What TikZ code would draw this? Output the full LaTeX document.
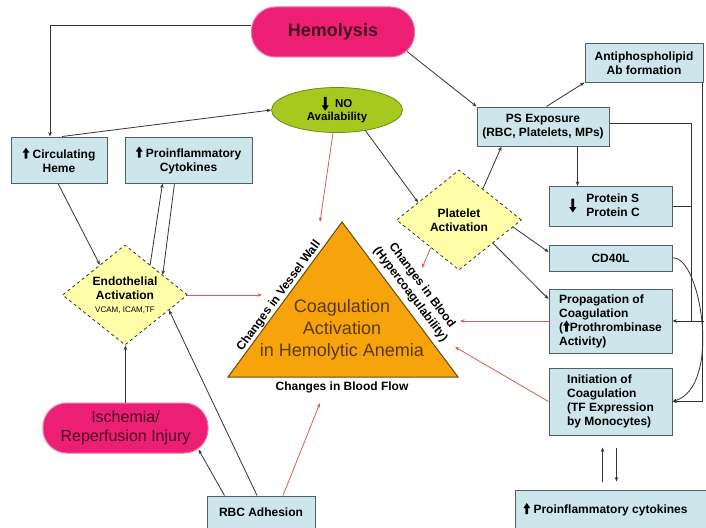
\documentclass[tikz,border=0pt]{standalone}
\usepackage{fontspec}
\setmainfont{Liberation Sans}
\usetikzlibrary{shapes.geometric,arrows.meta,calc}
\definecolor{boxfill}{HTML}{CDE6EC}
\definecolor{boxline}{HTML}{4F5F63}
\definecolor{pinkfill}{HTML}{EC1F74}
\definecolor{pinkline}{HTML}{F26FA3}
\definecolor{maroontxt}{HTML}{4A0A22}
\definecolor{greenfill}{HTML}{A5C91F}
\definecolor{greenline}{HTML}{6E8A12}
\definecolor{yellowfill}{HTML}{FFFFAA}
\definecolor{orangefill}{HTML}{F7A30C}
\definecolor{orangeline}{HTML}{6A4A08}
\definecolor{browntxt}{HTML}{5A3806}
\definecolor{redarr}{HTML}{DD5A55}
\definecolor{darkline}{HTML}{333333}
\newcommand{\UpA}{\tikz[x=1pt,y=1pt,baseline=0pt]\fill[black] (-1.4,-0.5)--(1.4,-0.5)--(1.4,5.5)--(3.4,5.5)--(0,10.5)--(-3.4,5.5)--(-1.4,5.5)--cycle;}
\newcommand{\BigDown}{\tikz[x=1pt,y=1pt,baseline=3pt]\fill[black] (-1.4,14)--(1.4,14)--(1.4,5.5)--(3.6,5.5)--(0,0)--(-3.6,5.5)--(-1.4,5.5)--cycle;}
\tikzset{
  box/.style={draw=boxline, fill=boxfill, line width=1pt, align=center, font=\bfseries\fontsize{12}{14}\selectfont, inner sep=1pt},
  pill/.style={draw=pinkline, fill=pinkfill, line width=1pt, rounded corners=24pt, text=maroontxt, align=center},
  dia/.style={diamond, draw=darkline, dashed, fill=yellowfill, line width=0.8pt, aspect=1.25, inner sep=0pt, align=center, font=\bfseries\fontsize{12}{14}\selectfont},
  ln/.style={draw=darkline, line width=0.8pt},
  arr/.style={ln, -{Stealth[length=4.5pt,width=3.5pt]}},
  rarr/.style={draw=redarr, line width=0.8pt, -{Stealth[length=4.5pt,width=3.5pt]}},
  lbl/.style={font=\bfseries\fontsize{12}{14.5}\selectfont, align=center, inner sep=0pt},
}
\begin{document}
\begin{tikzpicture}[x=1pt,y=-1pt]
\useasboundingbox[fill=white] (0,0) rectangle (706,527);

% triangle
\coordinate (tA) at (342,222);
\coordinate (tB) at (228,377);
\coordinate (tC) at (458,377);
\draw[fill=orangefill, draw=orangeline, line width=1pt] (tA)--(tB)--(tC)--cycle;
\node[font=\fontsize{18}{22}\selectfont, text=browntxt, align=center] (coag) at (342,330) {Coagulation\\Activation\\in Hemolytic Anemia};
\node[lbl, rotate=53.7] (lv) at (279,296) {Changes in Vessel Wall};
\node[lbl, rotate=-53.2] (lb) at (416,290) {Changes in Blood\\(Hypercoagulability)};
\node[lbl] (lf) at (342,387) {Changes in Blood Flow};

% nodes
\node[pill, minimum width=163pt, minimum height=50pt, font=\bfseries\fontsize{18}{20}\selectfont] (hemo) at (333,32) {Hemolysis};
\node[ellipse, draw=greenline, fill=greenfill, line width=0.8pt, minimum width=131pt, minimum height=45pt, inner sep=0pt, align=center, font=\bfseries\fontsize{11.5}{13}\selectfont] (no) at (337,110) {\BigDown\ \ NO\\Availability};
\node[box, minimum width=96pt, minimum height=46pt] (heme) at (59,160) {\UpA\ Circulating\\Heme};
\node[box, minimum width=127pt, minimum height=46pt] (cyto) at (188.5,160) {\UpA\ Proinflammatory\\Cytokines};
\node[box, minimum width=132pt, minimum height=39pt] (ps) at (543,126.5) {PS Exposure\\(RBC, Platelets, MPs)};
\node[box, minimum width=118pt, minimum height=38pt] (anti) at (644,63) {Antiphospholipid\\Ab formation};
\node[box, minimum width=123pt, minimum height=40pt] (prot) at (610.5,206.5) {\BigDown\hspace{10pt}\begin{tabular}{@{}l@{}}Protein S\\Protein C\end{tabular}\hspace{12pt}};
\node[box, minimum width=123pt, minimum height=26pt] (cd40) at (610.5,258) {CD40L};
\node[box, minimum width=123pt, minimum height=64pt, align=left] (prop) at (610.5,321) {Propagation of\\Coagulation\\(\UpA Prothrombinase\\Activity)};
\node[box, minimum width=123pt, minimum height=67pt, align=left] (init) at (610.5,401.5) {Initiation of\\Coagulation\\(TF Expression\\by Monocytes)};
\node[box, minimum width=193pt, minimum height=39pt] (cyto2) at (611.5,509.5) {\UpA\ Proinflammatory cytokines\hspace{12pt}};
\node[box, minimum width=108pt, minimum height=33pt] (rbc) at (261,512.5) {RBC Adhesion};
\node[pill, minimum width=165pt, minimum height=50pt, font=\fontsize{16}{19}\selectfont] (isch) at (125.5,428) {Ischemia/\\Reperfusion Injury};
\node[dia, minimum width=125pt, minimum height=100pt] (endo) at (125,295) {Endothelial\\Activation\\[-1pt]{\mdseries\fontsize{8}{9}\selectfont VCAM, ICAM,TF}};
\node[dia, minimum width=125pt, minimum height=100pt] (plat) at (459,220) {Platelet\\Activation};

% free ends of red arrows
\coordinate (e6) at (262,295);
\coordinate (e10) at (320,403);
\coordinate (e11) at (320,222);
\coordinate (e21) at (422,268);
\coordinate (e22) at (460,321);
\coordinate (e23) at (455,347);

% connectors
\draw[arr] ($(hemo.west)+(0,-7)$) -| ($(heme.north)+(-9,0)$);
\draw[arr] ($(hemo.south east)+(-8,-6)$) -- (ps.north west);
\draw[arr] ($(heme.north)+(3,0)$) -- (no.west);
\draw[arr] ($(heme.south)+(-1,0)$) -- ($(endo.west)!0.6!(endo.north)$);
\draw[arr] ($(endo.north)!0.4!(endo.east)$) -- ($(cyto.south west)+(38,0)$);
\draw[arr] ($(cyto.south west)+(50,0)$) -- ($(endo.north)!0.6!(endo.east)$);
\draw[rarr] (endo.east) -- (e6);
\draw[arr] (isch.north) -- (isch.north |- endo.south);
\draw[arr] ($(rbc.north)+(-4,0)$) -- ($(endo.east)!0.3!(endo.south)$);
\draw[arr] ($(rbc.north west)+(18,0)$) -- ($(isch.south east)+(-10,-4)$);
\draw[rarr] ($(rbc.north)+(22,0)$) -- (e10);
\draw[rarr] ($(no.south)+(-4,0)$) -- (e11);
\draw[arr] (no.-36) -- ($(plat.west)!0.35!(plat.north)$);
\draw[arr] ($(plat.north)!0.38!(plat.east)$) -- ($(ps.south west)+(25,0)$);
\draw[arr] ($(ps.north west)+(70,0)$) -- (anti.south west);
\draw[arr] ($(ps.south west)+(101,0)$) -- ($(prot.north west)+(29,0)$);
\draw[arr] ($(ps.east)+(0,-3)$) -| ($(prop.east)+(19,0)$) -- (prop.east);
\draw[ln] (prot.east) -- ($(prot.east)+(18.5,0)$);
\draw[arr] ($(anti.south east)+(-1,0)$) |- (init.east);
\draw[ln] ($(prop.east)+(19,0)$) -- ($(prop.east)+(31,0)$);
\draw[arr] (cd40.east) .. controls ($(cd40.east)+(28,-3)$) and ($(init.east)+(50,-15)$) .. (init.east);
\draw[arr] ($(plat.east)!0.14!(plat.south)$) -- ($(cd40.west)+(0,-6)$);
\draw[arr] ($(plat.east)!0.46!(plat.south)$) -- ($(prop.west)+(0,-22)$);
\draw[rarr] ($(plat.west)!0.55!(plat.south)$) -- (e21);
\draw[rarr] (prop.west) -- (e22);
\draw[rarr] (init.west) -- (e23);
\draw[arr] ($(cyto2.north west)+(88,-8)$) -- ($(init.south west)+(54,12)$);
\draw[arr] ($(init.south west)+(68,12)$) -- ($(cyto2.north west)+(102,-8)$);
\end{tikzpicture}
\end{document}
